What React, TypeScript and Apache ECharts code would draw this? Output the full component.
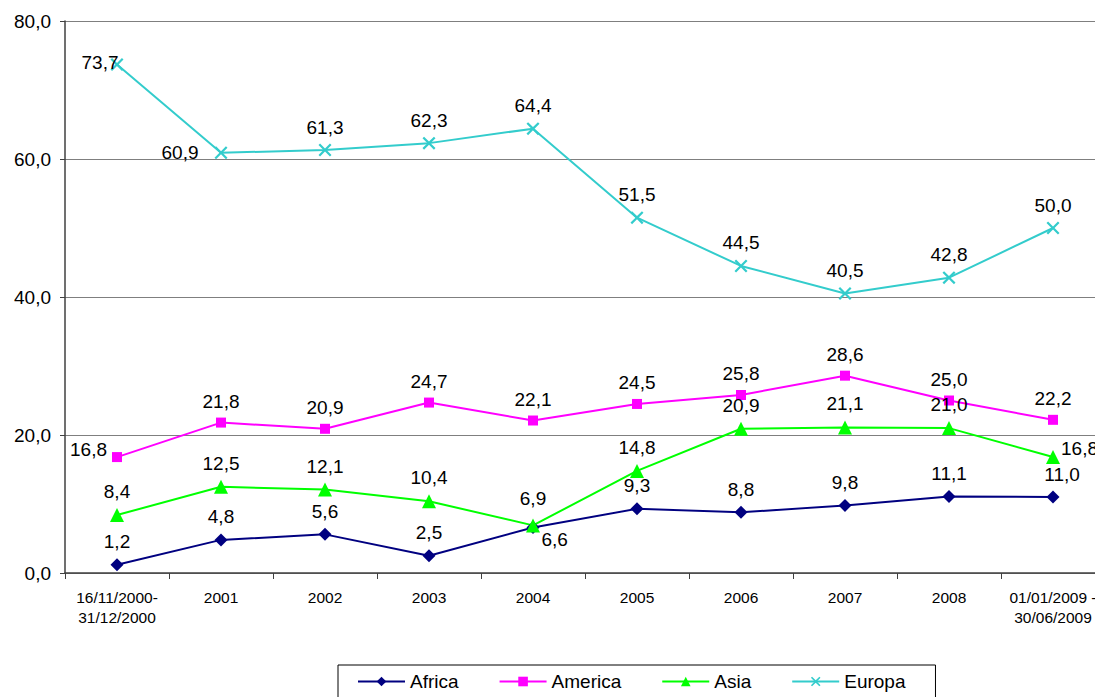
import React, { useEffect, useRef } from "react";
import * as echarts from "echarts";

const categories = [
  "16/11/2000-\n31/12/2000",
  "2001",
  "2002",
  "2003",
  "2004",
  "2005",
  "2006",
  "2007",
  "2008",
  "01/01/2009 -\n30/06/2009",
];
const africa = [1.2, 4.8, 5.6, 2.5, 6.6, 9.3, 8.8, 9.8, 11.1, 11.0];
const america = [16.8, 21.8, 20.9, 24.7, 22.1, 24.5, 25.8, 28.6, 25.0, 22.2];
const asia = [8.4, 12.5, 12.1, 10.4, 6.9, 14.8, 20.9, 21.1, 21.0, 16.8];
const europa = [73.7, 60.9, 61.3, 62.3, 64.4, 51.5, 44.5, 40.5, 42.8, 50.0];
const yTicks = { min: 0, max: 80, interval: 20 };

const FONT = "'Liberation Sans', Arial, sans-serif";
const fmt = (v: number) => v.toFixed(1).replace(".", ",");
const X_SYMBOL =
  "path://M0,1.2L1.2,0L5,3.8L8.8,0L10,1.2L6.2,5L10,8.8L8.8,10L5,6.2L1.2,10L0,8.8L3.8,5Z";

type LabelOverride = Record<number, any>;

function buildData(values: number[], overrides: LabelOverride) {
  return values.map((v, i) => (overrides[i] ? { value: v, label: overrides[i] } : { value: v }));
}

export default function App() {
  const ref = useRef<HTMLDivElement>(null);
  useEffect(() => {
    if (!ref.current) return;
    const chart = echarts.init(ref.current, undefined, { renderer: "svg" });
    const baseLabel = {
      show: true,
      position: "top",
      distance: 7,
      color: "#000",
      fontSize: 19,
      fontFamily: FONT,
      formatter: (p: any) => fmt(p.value),
    };
    const mk = (
      name: string,
      values: number[],
      color: string,
      symbol: string,
      symbolSize: number,
      overrides: LabelOverride
    ) => ({
      name,
      type: "line",
      data: buildData(values, overrides),
      symbol,
      symbolSize,
      showSymbol: true,
      lineStyle: { color, width: 2 },
      itemStyle: { color, borderWidth: 0 },
      label: baseLabel,
      z: 3,
    });
    chart.setOption({
      animation: false,
      textStyle: { fontFamily: FONT },
      grid: {
        left: 65,
        width: 1040,
        top: 21,
        bottom: 124,
        containLabel: false,
        outerBoundsMode: "none",
      },
      legend: {
        left: 338,
        top: 665,
        orient: "horizontal",
        padding: [7, 30, 8, 19],
        borderColor: "#000",
        borderWidth: 1,
        itemGap: 40,
        itemWidth: 47,
        itemHeight: 12,
        textStyle: { color: "#000", fontSize: 19, fontFamily: FONT },
        data: ["Africa", "America", "Asia", "Europa"],
      },
      xAxis: {
        type: "category",
        data: categories,
        boundaryGap: true,
        axisLine: { show: true, lineStyle: { color: "#404040", width: 1.5 } },
        axisTick: { show: true, length: 6, alignWithLabel: false, lineStyle: { color: "#404040" } },
        axisLabel: {
          interval: 0,
          color: "#000",
          fontSize: 15.5,
          lineHeight: 20,
          margin: 14,
          fontFamily: FONT,
        },
        splitLine: { show: false },
      },
      yAxis: {
        type: "value",
        min: yTicks.min,
        max: yTicks.max,
        interval: yTicks.interval,
        axisLine: { show: true, lineStyle: { color: "#404040", width: 1.5 } },
        axisTick: { show: true, length: 5, lineStyle: { color: "#404040" } },
        axisLabel: {
          color: "#000",
          fontSize: 19,
          margin: 14,
          fontFamily: FONT,
          formatter: (v: number) => fmt(v),
        },
        splitLine: { show: true, lineStyle: { color: "#7f7f7f", width: 1 } },
      },
      series: [
        mk("Africa", africa, "#000080", "diamond", 13, {
          4: { position: "right", distance: 4, offset: [-2, 12] },
          9: { position: "top", distance: 7, offset: [9, 0] },
        }),
        mk("America", america, "#FF00FF", "rect", 10, {
          0: { position: "left", distance: 5, offset: [0, -8] },
        }),
        mk("Asia", asia, "#00FF00", "triangle", 14, {
          4: { position: "top", distance: 10 },
          9: { position: "right", distance: 1, offset: [0, -9] },
        }),
        mk("Europa", europa, "#33CCCC", X_SYMBOL, 13, {
          0: { position: "left", distance: 0, offset: [8, -2] },
          1: { position: "left", distance: 16 },
        }),
      ],
    });
    return () => chart.dispose();
  }, []);
  return (
    <div
      ref={ref}
      style={{ position: "absolute", left: 0, top: 0, width: 1095, height: 697, background: "#fff" }}
    />
  );
}
